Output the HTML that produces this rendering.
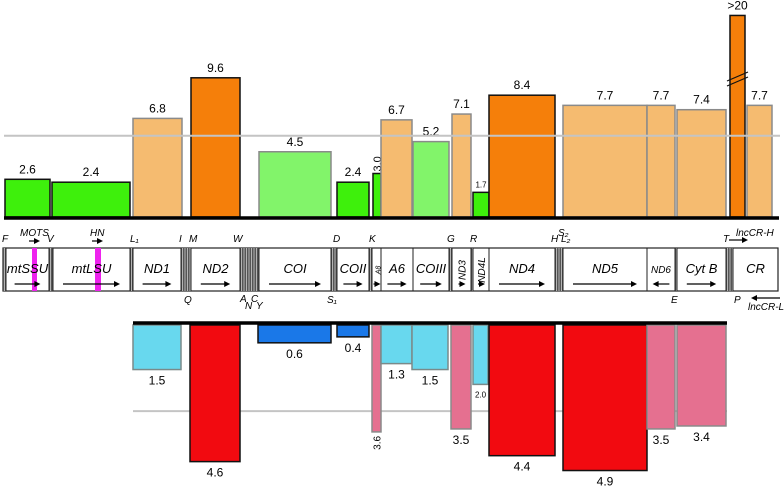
<!DOCTYPE html>
<html><head><meta charset="utf-8"><style>
html,body{margin:0;padding:0;background:#fff;width:784px;height:488px;overflow:hidden}
svg{display:block;font-family:"Liberation Sans",Arial,sans-serif}
</style></head><body>
<svg id="c" width="784" height="488" viewBox="0 0 784 488"></svg>
<script>
const topCats=["mtSSU","mtLSU","ND1","ND2","COI","COII","A8","A6","COIII","ND3","ND4L","ND4","ND5","ND6","CytB","lncCR-H","CR"];
const topLabels=["2.6","2.4","6.8","9.6","4.5","2.4","3.0","6.7","5.2","7.1","1.7","8.4","7.7","7.7","7.4",">20","7.7"];
const topVals=[2.6,2.4,6.8,9.6,4.5,2.4,3.0,6.7,5.2,7.1,1.7,8.4,7.7,7.7,7.4,20,7.7];
const topKind=["g","g","o","O","l","g","g","o","l","o","g","O","o","o","o","O","o"];
const topX0=[5,52,133,191,259,337,373,381,413,452,473,489,563,647,677,730,747];
const topX1=[50,130,182,240,331,369,381,412,449,471,489,555,647,675,726,745,772];
const botCats=["ND1","ND2","COI","COII","A8","A6","COIII","ND3","ND4L","ND4","ND5","ND6","CytB"];
const botVals=[1.5,4.6,0.6,0.4,3.6,1.3,1.5,3.5,2.0,4.4,4.9,3.5,3.4];
const botLabels=["1.5","4.6","0.6","0.4","3.6","1.3","1.5","3.5","2.0","4.4","4.9","3.5","3.4"];
const botKind=["c","r","b","b","p","c","c","p","c","r","r","p","p"];
const botX0=[133,190,258,337,372,381,412,451,473,489,563,647,677];
const botX1=[181,240,331,369,381,412,448,471,488,555,647,675,726];
const topRef=5.6, botRef=2.9;

const NS="http://www.w3.org/2000/svg", svg=document.getElementById('c');
function el(t,a,txt){const e=document.createElementNS(NS,t);for(const k in a)e.setAttribute(k,a[k]);if(txt!=null)e.textContent=txt;svg.appendChild(e);return e;}
const TB=217, TS=14.5, BB=325, BS=29.7;
const yTop=v=>TB-Math.min(v,13.9)*TS;
const yBot=v=>BB+v*BS;
const fills={g:["#3ef00c","#111"],o:["#f5bb70","#8a8a8a"],O:["#f57f0a","#111"],l:["#82f46a","#8a8a8a"],c:["#68d8ee","#7a8a8a"],r:["#f20a10","#111"],b:["#1a78e8","#111"],p:["#e57090","#8a8a8a"]};

topVals.forEach((v,i)=>{
  const y=yTop(v),[f,s]=fills[topKind[i]];
  const r=el('rect',{x:topX0[i],y:y,width:topX1[i]-topX0[i],height:TB-y,fill:f,stroke:s,'stroke-width':1.5});
  
  
  const cx=(topX0[i]+topX1[i])/2;
  let t;
  if(topLabels[i]==="3.0"){t=el('text',{x:cx+4,y:y-2,'font-size':11,transform:`rotate(-90 ${cx+4} ${y-2})`},topLabels[i]);}
  else if(topLabels[i]==="1.7"){t=el('text',{x:cx,y:y-5,'font-size':8,'text-anchor':'middle'},topLabels[i]);}
  else t=el('text',{x:cx,y:y-6,'font-size':12,'text-anchor':'middle'},topLabels[i]);
  
  
});
el('line',{x1:727,y1:81,x2:748,y2:72,stroke:'#111','stroke-width':1.2});
el('line',{x1:727,y1:86,x2:748,y2:77,stroke:'#111','stroke-width':1.2});
const tref=el('line',{x1:4,x2:780,y1:yTop(topRef),y2:yTop(topRef),stroke:'#c4c4c4','stroke-width':2});

const tax=el('line',{x1:4,x2:779,y1:218,y2:218,stroke:'#000','stroke-width':3.5});


const bref=el('line',{x1:133,x2:727,y1:yBot(botRef),y2:yBot(botRef),stroke:'#c4c4c4','stroke-width':2});

botVals.forEach((v,i)=>{
  const y=yBot(v),[f,s]=fills[botKind[i]];
  const r=el('rect',{x:botX0[i],y:BB,width:botX1[i]-botX0[i],height:y-BB,fill:f,stroke:s,'stroke-width':1.5});
  
  
  const cx=(botX0[i]+botX1[i])/2;
  let t;
  if(botLabels[i]==="3.6"){t=el('text',{x:cx+4,y:y+4,'font-size':10,'text-anchor':'end',transform:`rotate(-90 ${cx+4} ${y+4})`},botLabels[i]);}
  else if(botLabels[i]==="2.0"){t=el('text',{x:cx,y:y+13,'font-size':8,'text-anchor':'middle'},botLabels[i]);}
  else t=el('text',{x:cx,y:y+15,'font-size':12,'text-anchor':'middle'},botLabels[i]);
  
  
});
const bax=el('line',{x1:133,x2:727,y1:323,y2:323,stroke:'#000','stroke-width':3.5});


const GY=248,GH=43;
const box=el('rect',{x:3,y:GY,width:775,height:GH,fill:'#fff',stroke:'#222','stroke-width':1.2});

const genes=[["mtSSU",6,49,1],["mtLSU",53,130,1],["ND1",133,181,1],["ND2",191,240,1],["COI",259,331,1],["COII",337,369,1],["A8",372,381,1],["A6",381,413,1],["COIII",413,449,1],["ND3",452,471,1],["ND4L",473,489,1],["ND4",489,555,1],["ND5",563,647,1],["ND6",647,675,-1],["Cyt B",677,726,1],["CR",733,778,0]];
const trna=[[3,6],[49,53],[130,133],[181,191],[240,259],[331,337],[369,372],[449,452],[471,473],[555,563],[675,677],[726,733]];
trna.forEach(([a,b])=>{
  el('rect',{x:a,y:GY,width:b-a,height:GH,fill:'#555'});
  for(let x=a+1.5;x<b;x+=2.5)el('line',{x1:x,x2:x,y1:GY,y2:GY+GH,stroke:'#ddd','stroke-width':0.7});
});
[[32,37],[95,101]].forEach(([a,b])=>el('rect',{x:a,y:GY,width:b-a,height:GH,fill:'#ee22ee'}));
genes.forEach(([n,a,b,d])=>{
  el('line',{x1:a,x2:a,y1:GY,y2:GY+GH,stroke:'#222','stroke-width':1});
  el('line',{x1:b,x2:b,y1:GY,y2:GY+GH,stroke:'#222','stroke-width':1});
  const cx=(a+b)/2,w=b-a;
  let t;
  if(n==="A8"||n==="ND3"||n==="ND4L"){t=el('text',{x:cx+4,y:GY+22,'font-size':n==="A8"?7:10,'font-style':'italic','text-anchor':'middle',transform:`rotate(-90 ${cx+4} ${GY+22})`},n);}
  else t=el('text',{x:cx,y:GY+25,'font-size':n==="ND6"?10:13,'font-style':'italic','text-anchor':'middle'},n);
  
  if(d!==0){
    const ay=GY+36, m=Math.min(w*0.2,10);
    let x1=a+m,x2=b-m;
    if(w<25){x1=cx-3;x2=cx+4;}
    if(d>0){el('line',{x1:x1,x2:x2-5,y1:ay,y2:ay,stroke:'#000','stroke-width':1.2});el('polygon',{points:`${x2},${ay} ${x2-6},${ay-3} ${x2-6},${ay+3}`,fill:'#000'});}
    else{el('line',{x1:x1+5,x2:x2,y1:ay,y2:ay,stroke:'#000','stroke-width':1.2});el('polygon',{points:`${x1},${ay} ${x1+6},${ay-3} ${x1+6},${ay+3}`,fill:'#000'});}
  }
});
const above=[["F",2,242],["V",47,242],["L₁",130,242],["I",179,242],["M",189,242],["W",233,242],["D",333,242],["K",369,242],["G",447,242],["R",470,242],["H",551,242],["S₂",558,236],["L₂",561,242],["T",723,242],["MOTS",20,236],["HN",90,236],["lncCR-H",736,236]];
above.forEach(([s,x,y])=>{const t=el('text',{x:x,y:y,'font-size':10,'font-style':'italic'},s);});
const below=[["Q",184,303],["A",240,302],["C",251,302],["N",245,309],["Y",256,309],["S₁",327,303],["E",671,303],["P",734,303],["lncCR-L",748,310]];
below.forEach(([s,x,y])=>{const t=el('text',{x:x,y:y,'font-size':10,'font-style':'italic'},s);});
function arr(x1,x2,y){el('line',{x1:Math.min(x1,x2)+(x2<x1?5:0),x2:Math.max(x1,x2)-(x2>x1?5:0),y1:y,y2:y,stroke:'#000','stroke-width':1.2});el('polygon',{points:x2>x1?`${x2},${y} ${x2-6},${y-3} ${x2-6},${y+3}`:`${x2},${y} ${x2+6},${y-3} ${x2+6},${y+3}`,fill:'#000'});}
arr(29,40,241);arr(92,103,241);arr(729,748,240);arr(780,751,298);
</script>
</body></html>
